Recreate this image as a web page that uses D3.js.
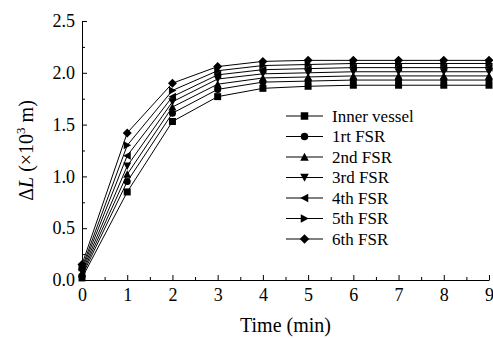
<!DOCTYPE html>
<html>
<head>
<meta charset="utf-8">
<script src="https://cdn.jsdelivr.net/npm/d3@7"></script>
<style>
  body { margin: 0; background: #fff; }
  svg, svg text { font-family: 'Liberation Serif', 'Times New Roman', Times, serif !important; fill: #000; }
</style>
</head>
<body>
<svg id="chart"></svg>
<script>
width = 493;
height = 338;
margin = ({ top: 21, right: 3, bottom: 58, left: 82 });

// time in minutes
const times = [0, 1, 2, 3, 4, 5, 6, 7, 8, 9];
const names = ["Inner vessel", "1rt FSR", "2nd FSR", "3rd FSR", "4th FSR", "5th FSR", "6th FSR"];
const markers = ["square", "circle", "up", "down", "left", "right", "diamond"];

// Delta L (x10^3 m)
const innerVessel = [0.02, 0.85, 1.53, 1.77, 1.85, 1.87, 1.88, 1.88, 1.88, 1.88];
const fsr1 = [0.04, 0.95, 1.61, 1.84, 1.91, 1.92, 1.93, 1.93, 1.93, 1.93];
const fsr2 = [0.06, 1.02, 1.67, 1.89, 1.95, 1.96, 1.97, 1.97, 1.97, 1.97];
const fsr3 = [0.08, 1.10, 1.72, 1.94, 1.99, 2.00, 2.01, 2.01, 2.01, 2.01];
const fsr4 = [0.10, 1.20, 1.77, 1.98, 2.03, 2.04, 2.05, 2.05, 2.05, 2.05];
const fsr5 = [0.12, 1.30, 1.83, 2.02, 2.07, 2.08, 2.09, 2.09, 2.09, 2.09];
const fsr6 = [0.15, 1.42, 1.90, 2.06, 2.11, 2.12, 2.12, 2.12, 2.12, 2.12];
const allSeries = [innerVessel, fsr1, fsr2, fsr3, fsr4, fsr5, fsr6];

const xTicks = [0, 1, 2, 3, 4, 5, 6, 7, 8, 9];
const yTicks = [0, 0.5, 1.0, 1.5, 2.0, 2.5];

const svg = d3.select("#chart").attr("width", width).attr("height", height);

x = d3.scaleLinear().domain([0, 9]).range([margin.left, width - margin.right - 1]);
y = d3.scaleLinear().domain([0, 2.5]).range([height - margin.bottom, margin.top]);

// marker shapes
function markerPath(type, s) {
  const h = s / 2;
  if (type === "square") return `M${-h},${-h}H${h}V${h}H${-h}Z`;
  if (type === "up") return `M0,${-h - 0.5}L${h + 0.5},${h}L${-h - 0.5},${h}Z`;
  if (type === "down") return `M0,${h + 0.5}L${h + 0.5},${-h}L${-h - 0.5},${-h}Z`;
  if (type === "left") return `M${-h - 0.5},0L${h},${-h - 0.5}L${h},${h + 0.5}Z`;
  if (type === "right") return `M${h + 0.5},0L${-h},${-h - 0.5}L${-h},${h + 0.5}Z`;
  if (type === "diamond") return `M0,${-h - 1}L${h + 1},0L0,${h + 1}L${-h - 1},0Z`;
  return d3.symbol(d3.symbolCircle, s * s * 0.8)();
}

// axes (ticks inward)
const xAxis = g => g
  .attr("transform", `translate(0,${y(0)})`)
  .call(d3.axisBottom(x).tickValues(xTicks).tickFormat(d3.format("d")).tickSizeInner(-5).tickSizeOuter(0).tickPadding(8))
  .attr("font-family", null)
  .call(g => g.selectAll("text").attr("font-size", 18));

const yAxis = g => g
  .attr("transform", `translate(${x(0)},0)`)
  .call(d3.axisLeft(y).tickValues(yTicks).tickFormat(d3.format(".1f")).tickSizeInner(-5).tickSizeOuter(0).tickPadding(7))
  .attr("font-family", null)
  .call(g => g.selectAll("text").attr("font-size", 18));

// minor ticks
svg.append("g")
  .attr("transform", `translate(0,${y(0)})`)
  .call(d3.axisBottom(x).tickValues(d3.range(0.5, 9, 1)).tickSize(-3).tickFormat(""))
  .call(g => g.select(".domain").remove());
svg.append("g")
  .attr("transform", `translate(${x(0)},0)`)
  .call(d3.axisLeft(y).tickValues(d3.range(0.25, 2.5, 0.5)).tickSize(-3).tickFormat(""))
  .call(g => g.select(".domain").remove());

svg.append("g").call(xAxis);
svg.append("g").call(yAxis);

// axis titles
svg.append("text")
  .attr("x", (x(0) + x(9)) / 2)
  .attr("y", 332)
  .attr("text-anchor", "middle")
  .attr("font-size", 20)
  .text("Time (min)");

const yt = svg.append("text")
  .attr("transform", `translate(33,${(y(0) + y(2.5)) / 2}) rotate(-90)`)
  .attr("text-anchor", "middle")
  .attr("font-size", 20);
yt.append("tspan").text("Δ");
yt.append("tspan").attr("font-style", "italic").text("L");
yt.append("tspan").text(" (×10");
yt.append("tspan").attr("font-size", 13).attr("dy", -8).text("3");
yt.append("tspan").attr("dy", 8).text(" m)");

// lines + markers
const line = d3.line().x((d, i) => x(times[i])).y(d => y(d));

const series = svg.append("g")
  .selectAll("g")
  .data(allSeries)
  .join("g");

series.append("path")
  .attr("d", d => line(d))
  .attr("fill", "none")
  .attr("stroke", "#000")
  .attr("stroke-width", 1);

series.each(function (d, si) {
  d3.select(this).selectAll("path.m")
    .data(d)
    .join("path")
    .attr("class", "m")
    .attr("transform", (v, i) => `translate(${x(times[i])},${y(v)})`)
    .attr("d", markerPath(markers[si], 7))
    .attr("fill", "#000");
});

// legend
const legend = svg.append("g").attr("transform", "translate(286,116)");
const row = legend.selectAll("g")
  .data(names)
  .join("g")
  .attr("transform", (d, i) => `translate(0,${i * 20.5})`);
row.append("line").attr("x1", 0).attr("x2", 37).attr("stroke", "#000").attr("stroke-width", 1);
row.append("path")
  .attr("transform", "translate(18.5,0)")
  .attr("d", (d, i) => markerPath(markers[i], 7.5))
  .attr("fill", "#000");
row.append("text")
  .attr("x", 46)
  .attr("dy", "0.35em")
  .attr("font-size", 17)
  .text(d => d);
</script>
</body>
</html>
